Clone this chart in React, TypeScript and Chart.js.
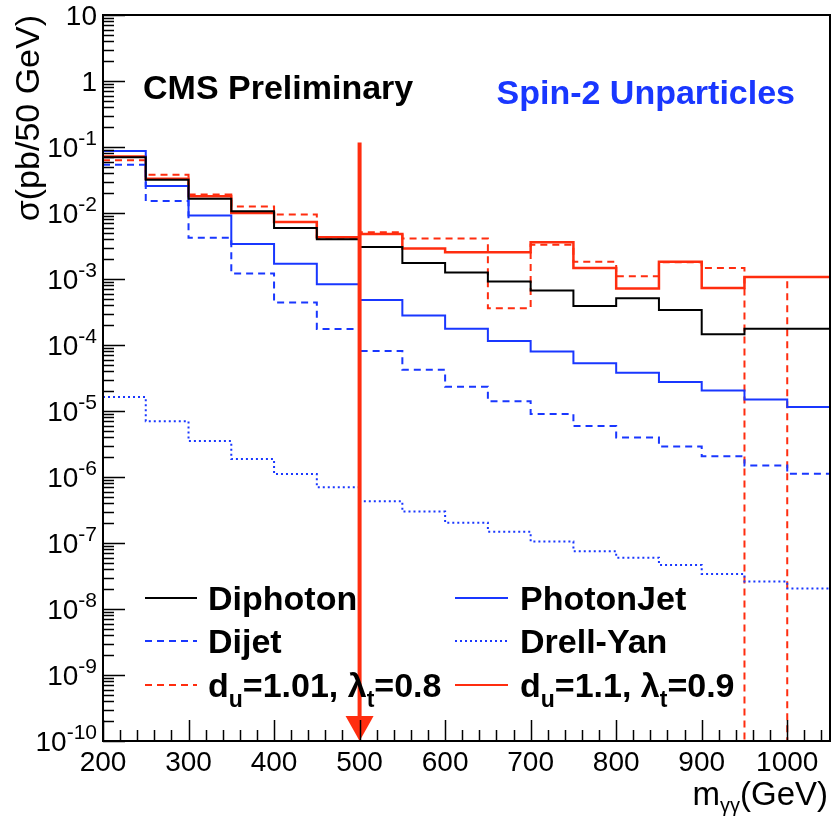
import React, { useEffect, useRef } from 'react';
import { Chart, registerables } from 'chart.js';
Chart.register(...registerables);

// bin lower edges (50 GeV bins) and the final upper edge
const binEdges = [200, 250, 300, 350, 400, 450, 500, 550, 600, 650, 700, 750, 800, 850, 900, 950, 1000, 1050];

const diphoton = [0.070, 0.032, 0.0165, 0.0106, 0.0059, 0.0040, 0.00306, 0.00175, 0.00126, 0.00092, 0.00067, 0.00039, 0.00051, 0.00034, 0.000145, 0.000177, 0.000177];
const photonJet = [0.087, 0.0256, 0.0092, 0.0034, 0.0017, 0.00083, 0.00048, 0.00028, 0.000177, 0.000115, 0.00008, 0.000053, 0.000038, 0.0000275, 0.0000204, 0.000015, 0.0000115];
const dijet = [0.054, 0.0152, 0.0042, 0.00121, 0.00044, 0.000174, 0.000081, 0.000042, 0.0000234, 0.0000141, 0.000009, 0.0000059, 0.00000395, 0.0000029, 0.00000206, 0.0000015, 0.00000112];
const drellYan = [1.63e-5, 7.0e-6, 3.5e-6, 1.87e-6, 1.11e-6, 7.0e-7, 4.3e-7, 3.0e-7, 2.03e-7, 1.48e-7, 1.05e-7, 7.5e-8, 6.0e-8, 4.65e-8, 3.4e-8, 2.6e-8, 2.04e-8];
// 1e-12 = empty bin (falls below the axis)
const unpart101 = [0.063, 0.038, 0.019, 0.0126, 0.0095, 0.0042, 0.0051, 0.0041, 0.0041, 0.00036, 0.0033, 0.00182, 0.0011, 0.0018, 0.00147, 1e-12, 0.00107];
const unpart11 = [0.072, 0.033, 0.018, 0.010, 0.0073, 0.0043, 0.0048, 0.0029, 0.00254, 0.00254, 0.0036, 0.00147, 0.00072, 0.00182, 0.00073, 0.00107, 0.00107];

const arrowX = 500;
const arrowTop = 0.117;

const xMin = 200;
const xMax = 1050;
const xTickLabels = [200, 300, 400, 500, 600, 700, 800, 900, 1000];
const xMinorStep = 20;
const yMin = 1e-10;
const yMax = 10;
const yDecades = [-10, -9, -8, -7, -6, -5, -4, -3, -2, -1, 0, 1];

const RED = 'rgb(255,45,15)';
const BLUE = 'rgb(25,55,255)';
const FONT = '"Liberation Sans", Arial, Helvetica, sans-serif';

type Seg = { t: string; sub?: boolean; sup?: boolean };

function segSize(s: Seg, size: number, small: number) {
  return s.sub || s.sup ? Math.round(size * small) : size;
}

function drawRich(ctx: CanvasRenderingContext2D, segs: Seg[], x: number, baseline: number, size: number, bold: boolean, align: 'left' | 'right' | 'center', color: string, small = 0.68, subDrop = 0.3) {
  let w = 0;
  for (const s of segs) {
    ctx.font = `${bold ? 'bold ' : ''}${segSize(s, size, small)}px ${FONT}`;
    w += ctx.measureText(s.t).width;
  }
  let cx = align === 'left' ? x : align === 'right' ? x - w : x - w / 2;
  ctx.fillStyle = color;
  ctx.textAlign = 'left';
  ctx.textBaseline = 'alphabetic';
  for (const s of segs) {
    ctx.font = `${bold ? 'bold ' : ''}${segSize(s, size, small)}px ${FONT}`;
    const dy = s.sub ? size * subDrop : s.sup ? -size * 0.42 : 0;
    ctx.fillText(s.t, cx, baseline + dy);
    cx += ctx.measureText(s.t).width;
  }
}

function steps(vals: number[]) {
  return binEdges.map((x, i) => ({ x, y: vals[Math.min(i, vals.length - 1)] }));
}

const legendItems: { ds: number; col: number; row: number; segs: Seg[] }[] = [
  { ds: 0, col: 0, row: 0, segs: [{ t: 'Diphoton' }] },
  { ds: 2, col: 0, row: 1, segs: [{ t: 'Dijet' }] },
  { ds: 4, col: 0, row: 2, segs: [{ t: 'd' }, { t: 'u', sub: true }, { t: '=1.01, λ' }, { t: 't', sub: true }, { t: '=0.8' }] },
  { ds: 1, col: 1, row: 0, segs: [{ t: 'PhotonJet' }] },
  { ds: 3, col: 1, row: 1, segs: [{ t: 'Drell-Yan' }] },
  { ds: 5, col: 1, row: 2, segs: [{ t: 'd' }, { t: 'u', sub: true }, { t: '=1.1, λ' }, { t: 't', sub: true }, { t: '=0.9' }] },
];

const rootPlugin = {
  id: 'rootStyle',
  afterDatasetsDraw(chart: any) {
    const { ctx, chartArea: a, scales } = chart;
    const xs = scales.x;
    const ys = scales.y;
    ctx.save();

    // arrow at x = 500
    const ax = xs.getPixelForValue(arrowX);
    const ayTop = ys.getPixelForValue(arrowTop);
    const ayBot = ys.getPixelForValue(yMin);
    ctx.strokeStyle = RED;
    ctx.fillStyle = RED;
    ctx.lineWidth = 4;
    ctx.beginPath();
    ctx.moveTo(ax, ayTop);
    ctx.lineTo(ax, ayBot - 20);
    ctx.stroke();
    ctx.beginPath();
    ctx.moveTo(ax - 14, ayBot - 25);
    ctx.lineTo(ax + 14, ayBot - 25);
    ctx.lineTo(ax, ayBot);
    ctx.closePath();
    ctx.fill();

    // frame
    ctx.strokeStyle = '#000';
    ctx.lineWidth = 2;
    ctx.setLineDash([]);
    ctx.strokeRect(a.left, a.top, a.right - a.left, a.bottom - a.top);

    // x ticks (inside)
    ctx.lineWidth = 1.5;
    ctx.beginPath();
    for (let v = xMin; v <= xMax; v += xMinorStep) {
      const px = Math.round(xs.getPixelForValue(v)) + 0.5;
      const major = v % 100 === 0;
      ctx.moveTo(px, a.bottom);
      ctx.lineTo(px, a.bottom - (major ? 21 : 11));
    }
    // y ticks (inside)
    for (const d of yDecades) {
      for (let m = 1; m <= 9; m++) {
        const v = m * Math.pow(10, d);
        if (v > yMax * 1.0001) break;
        const py = Math.round(ys.getPixelForValue(v)) + 0.5;
        ctx.moveTo(a.left, py);
        ctx.lineTo(a.left + (m === 1 ? 22 : 11), py);
      }
    }
    ctx.stroke();

    // x tick labels
    ctx.fillStyle = '#000';
    ctx.font = `28px ${FONT}`;
    ctx.textAlign = 'center';
    ctx.textBaseline = 'alphabetic';
    for (const v of xTickLabels) {
      ctx.fillText(String(v), xs.getPixelForValue(v), a.bottom + 30);
    }
    // y tick labels
    for (const d of yDecades) {
      const py = ys.getPixelForValue(Math.pow(10, d));
      const segs: Seg[] = d === 0 ? [{ t: '1' }] : d === 1 ? [{ t: '10' }] : [{ t: '10' }, { t: '-' + String(-d), sup: true }];
      drawRich(ctx, segs, 97, py + 10, 28, false, 'right', '#000', 0.75);
    }

    // axis titles
    drawRich(ctx, [{ t: 'm' }, { t: 'γγ', sub: true }, { t: '(GeV)' }], a.right - 2, 805, 33, false, 'right', '#000', 0.6, 0.2);
    ctx.save();
    ctx.translate(39, a.top);
    ctx.rotate(-Math.PI / 2);
    drawRich(ctx, [{ t: 'σ(pb/50 GeV)' }], 0, 0, 34, false, 'right', '#000');
    ctx.restore();

    // labels in the frame
    drawRich(ctx, [{ t: 'CMS Preliminary' }], 143, 99, 34, true, 'left', '#000');
    drawRich(ctx, [{ t: 'Spin-2 Unparticles' }], 795, 104, 34, true, 'right', BLUE);

    // legend
    const colLine = [[145, 197], [455, 508]];
    const colText = [208, 520];
    const rowY = [598, 641, 685];
    for (const it of legendItems) {
      const ds = chart.data.datasets[it.ds];
      const y = rowY[it.row];
      ctx.strokeStyle = ds.borderColor;
      ctx.lineWidth = Math.min(ds.borderWidth, 2);
      ctx.setLineDash(ds.borderDash || []);
      ctx.beginPath();
      ctx.moveTo(colLine[it.col][0], y);
      ctx.lineTo(colLine[it.col][1], y);
      ctx.stroke();
      ctx.setLineDash([]);
      drawRich(ctx, it.segs, colText[it.col], y + 12, 34, true, 'left', '#000');
    }
    ctx.restore();
  },
};

export default function App() {
  const ref = useRef<HTMLCanvasElement>(null);
  useEffect(() => {
    if (!ref.current) return;
    const common = { stepped: true, pointRadius: 0, fill: false, tension: 0 };
    const chart = new Chart(ref.current, {
      type: 'line',
      data: {
        datasets: [
          { label: 'Diphoton', data: steps(diphoton), borderColor: '#000', borderWidth: 2, ...common },
          { label: 'PhotonJet', data: steps(photonJet), borderColor: BLUE, borderWidth: 2, ...common },
          { label: 'Dijet', data: steps(dijet), borderColor: BLUE, borderWidth: 2, borderDash: [7, 5], ...common },
          { label: 'Drell-Yan', data: steps(drellYan), borderColor: BLUE, borderWidth: 2, borderDash: [2, 3], ...common },
          { label: 'du=1.01, λt=0.8', data: steps(unpart101), borderColor: RED, borderWidth: 2, borderDash: [7, 5], ...common },
          { label: 'du=1.1, λt=0.9', data: steps(unpart11), borderColor: RED, borderWidth: 2.5, ...common },
        ] as any,
      },
      options: {
        responsive: false,
        animation: false,
        devicePixelRatio: 1,
        layout: { padding: { left: 103, right: 1, top: 15, bottom: 75 } },
        plugins: { legend: { display: false }, tooltip: { enabled: false } },
        scales: {
          x: { type: 'linear', min: xMin, max: xMax, display: false },
          y: { type: 'logarithmic', min: yMin, max: yMax, display: false },
        },
      } as any,
      plugins: [rootPlugin],
    });
    return () => chart.destroy();
  }, []);
  return (
    <div style={{ position: 'fixed', left: 0, top: 0, width: 831, height: 816, background: '#fff' }}>
      <canvas ref={ref} width={831} height={816} />
    </div>
  );
}
